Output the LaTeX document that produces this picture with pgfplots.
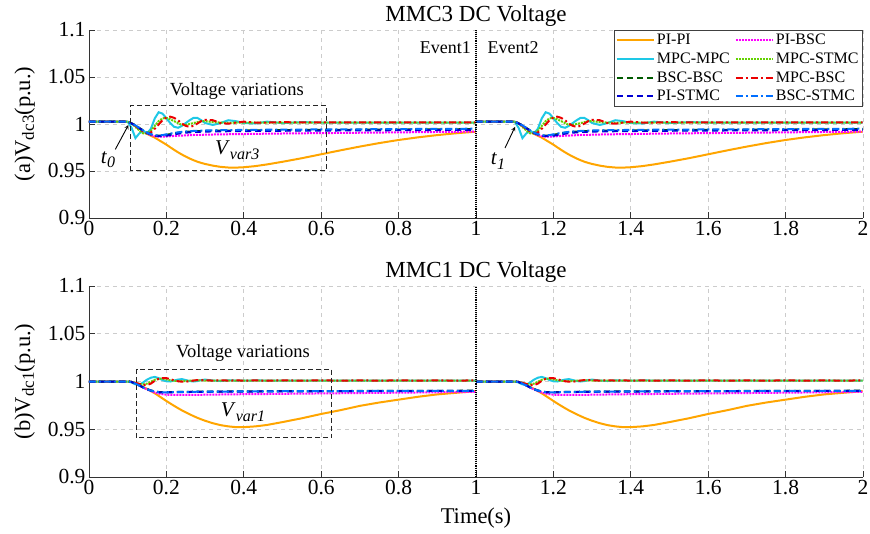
\documentclass[border=0pt]{standalone}
\usepackage{fontspec}
\setmainfont{Liberation Serif}
\usepackage{pgfplots}
\pgfplotsset{compat=1.18}
\usepackage{pgfplotstable}

\definecolor{cPIPI}{RGB}{255,165,0}
\definecolor{cMPC}{RGB}{30,200,230}
\definecolor{cPIBSC}{RGB}{255,0,255}
\definecolor{cMSTMC}{RGB}{100,210,0}
\definecolor{cBSC}{RGB}{0,90,0}
\definecolor{cMBSC}{RGB}{235,0,0}
\definecolor{cPISTMC}{RGB}{0,0,210}
\definecolor{cBSTMC}{RGB}{0,110,255}

% MMC3 (top): one event response, time relative to event window start
\pgfplotstableread{
t pipi pibsc mpcmpc mpcstmc bscbsc mpcbsc pistmc bscstmc
0.00 1.0024 1.0024 1.0024 1.0024 1.0024 1.0024 1.0024 1.0024
0.10 1.0024 1.0024 1.0024 1.0024 1.0024 1.0024 1.0024 1.0024
0.11 1.0005 1.0005 0.9960 1.0005 1.0008 1.0010 1.0006 1.0008
0.12 0.9980 0.9980 0.9850 0.9970 0.9985 0.9980 0.9982 0.9985
0.13 0.9950 0.9952 0.9900 0.9930 0.9958 0.9950 0.9955 0.9958
0.14 0.9920 0.9925 0.9930 0.9900 0.9932 0.9920 0.9928 0.9932
0.15 0.9895 0.9900 0.9900 0.9900 0.9908 0.9900 0.9905 0.9908
0.16 0.9875 0.9882 0.9950 0.9930 0.9890 0.9910 0.9888 0.9892
0.17 0.9855 0.9870 1.0060 0.9980 0.9878 0.9950 0.9876 0.9880
0.18 0.9830 0.9865 1.0125 1.0030 0.9875 0.9995 0.9872 0.9878
0.19 0.9805 0.9865 1.0110 1.0060 0.9878 1.0040 0.9872 0.9882
0.20 0.9780 0.9868 1.0060 1.0065 0.9885 1.0070 0.9876 0.9890
0.21 0.9752 0.9870 1.0010 1.0050 0.9892 1.0078 0.9882 0.9898
0.22 0.9725 0.9873 0.9970 1.0030 0.9900 1.0065 0.9890 0.9905
0.23 0.9699 0.9875 0.9960 1.0010 0.9907 1.0040 0.9897 0.9911
0.24 0.9675 0.9877 0.9980 0.9990 0.9912 1.0005 0.9903 0.9916
0.25 0.9653 0.9879 1.0010 0.9990 0.9916 0.9980 0.9908 0.9920
0.26 0.9633 0.9881 1.0040 1.0000 0.9919 0.9970 0.9911 0.9923
0.27 0.9615 0.9883 1.0065 1.0010 0.9921 0.9980 0.9914 0.9926
0.28 0.9599 0.9884 1.0065 1.0020 0.9923 1.0005 0.9916 0.9928
0.29 0.9586 0.9885 1.0040 1.0030 0.9925 1.0030 0.9918 0.9930
0.30 0.9575 0.9886 1.0010 1.0030 0.9926 1.0045 0.9919 0.9931
0.32 0.9557 0.9888 0.9990 1.0020 0.9928 1.0040 0.9921 0.9933
0.34 0.9544 0.9890 1.0010 1.0015 0.9929 1.0010 0.9922 0.9934
0.36 0.9537 0.9891 1.0040 1.0012 0.9930 1.0003 0.9923 0.9935
0.38 0.9536 0.9892 1.0030 1.0014 0.9931 1.0015 0.9924 0.9936
0.40 0.9540 0.9893 1.0010 1.0016 0.9932 1.0025 0.9925 0.9937
0.43 0.9552 0.9895 1.0005 1.0015 0.9933 1.0015 0.9926 0.9938
0.46 0.9570 0.9897 1.0025 1.0015 0.9934 1.0015 0.9927 0.9939
0.50 0.9598 0.9899 1.0010 1.0015 0.9935 1.0020 0.9928 0.9940
0.55 0.9636 0.9901 1.0020 1.0015 0.9936 1.0016 0.9929 0.9941
0.60 0.9678 0.9903 1.0015 1.0015 0.9937 1.0018 0.9930 0.9942
0.65 0.9720 0.9905 1.0015 1.0015 0.9938 1.0017 0.9931 0.9943
0.70 0.9760 0.9907 1.0015 1.0015 0.9939 1.0018 0.9932 0.9944
0.75 0.9797 0.9909 1.0015 1.0015 0.9940 1.0017 0.9933 0.9945
0.80 0.9830 0.9911 1.0015 1.0015 0.9941 1.0018 0.9934 0.9946
0.85 0.9858 0.9913 1.0015 1.0015 0.9942 1.0017 0.9935 0.9947
0.90 0.9882 0.9915 1.0015 1.0015 0.9943 1.0018 0.9936 0.9948
0.95 0.9902 0.9917 1.0015 1.0015 0.9944 1.0017 0.9937 0.9949
0.999 0.9918 0.9919 1.0015 1.0015 0.9945 1.0018 0.9938 0.9950
}\topdata

% MMC1 (bottom)
\pgfplotstableread{
t pipi pibsc mpcmpc mpcstmc bscbsc mpcbsc pistmc bscstmc
0.00 1.0000 1.0000 1.0000 1.0000 1.0000 1.0000 1.0000 1.0000
0.10 1.0000 1.0000 1.0000 1.0000 1.0000 1.0000 1.0000 1.0000
0.11 0.9995 0.9995 0.9990 0.9995 0.9995 0.9996 0.9995 0.9995
0.12 0.9982 0.9978 0.9970 0.9985 0.9978 0.9985 0.9978 0.9978
0.13 0.9963 0.9957 0.9965 0.9975 0.9958 0.9975 0.9958 0.9958
0.14 0.9943 0.9936 0.9990 0.9970 0.9938 0.9966 0.9938 0.9938
0.15 0.9923 0.9916 1.0020 0.9978 0.9920 0.9962 0.9920 0.9920
0.16 0.9900 0.9899 1.0040 0.9998 0.9906 0.9978 0.9905 0.9905
0.17 0.9876 0.9885 1.0048 1.0018 0.9896 1.0008 0.9894 0.9895
0.18 0.9850 0.9874 1.0035 1.0028 0.9890 1.0028 0.9888 0.9889
0.19 0.9823 0.9867 1.0015 1.0030 0.9888 1.0035 0.9886 0.9887
0.20 0.9796 0.9862 1.0002 1.0022 0.9888 1.0035 0.9886 0.9887
0.21 0.9770 0.9860 1.0000 1.0013 0.9889 1.0025 0.9887 0.9888
0.22 0.9745 0.9859 1.0010 1.0008 0.9890 1.0012 0.9888 0.9889
0.23 0.9721 0.9859 1.0020 1.0005 0.9891 1.0003 0.9889 0.9890
0.24 0.9698 0.9859 1.0025 1.0003 0.9891 0.9998 0.9889 0.9891
0.25 0.9677 0.9859 1.0015 1.0005 0.9892 0.9998 0.9890 0.9891
0.26 0.9657 0.9860 1.0005 1.0008 0.9892 1.0003 0.9890 0.9892
0.27 0.9638 0.9860 1.0000 1.0010 0.9893 1.0010 0.9891 0.9892
0.28 0.9620 0.9861 1.0005 1.0011 0.9893 1.0015 0.9891 0.9893
0.29 0.9604 0.9861 1.0015 1.0011 0.9894 1.0015 0.9892 0.9893
0.30 0.9589 0.9862 1.0020 1.0010 0.9894 1.0012 0.9892 0.9894
0.32 0.9563 0.9863 1.0010 1.0010 0.9895 1.0010 0.9893 0.9894
0.34 0.9543 0.9864 1.0005 1.0010 0.9895 1.0012 0.9893 0.9895
0.36 0.9530 0.9865 1.0012 1.0010 0.9896 1.0010 0.9894 0.9895
0.38 0.9522 0.9866 1.0010 1.0010 0.9896 1.0011 0.9894 0.9896
0.40 0.9522 0.9867 1.0008 1.0010 0.9897 1.0010 0.9895 0.9896
0.43 0.9530 0.9868 1.0011 1.0010 0.9897 1.0011 0.9895 0.9897
0.46 0.9545 0.9869 1.0010 1.0010 0.9898 1.0010 0.9896 0.9897
0.50 0.9575 0.9871 1.0010 1.0010 0.9898 1.0011 0.9896 0.9898
0.55 0.9615 0.9873 1.0010 1.0010 0.9899 1.0010 0.9897 0.9898
0.60 0.9660 0.9875 1.0010 1.0010 0.9900 1.0011 0.9898 0.9899
0.65 0.9700 0.9877 1.0010 1.0010 0.9900 1.0010 0.9898 0.9900
0.70 0.9745 0.9879 1.0010 1.0010 0.9901 1.0011 0.9899 0.9900
0.75 0.9780 0.9881 1.0010 1.0010 0.9901 1.0010 0.9899 0.9901
0.80 0.9810 0.9883 1.0010 1.0010 0.9902 1.0011 0.9900 0.9901
0.85 0.9840 0.9885 1.0010 1.0010 0.9902 1.0010 0.9900 0.9902
0.90 0.9865 0.9887 1.0010 1.0010 0.9903 1.0011 0.9901 0.9902
0.95 0.9882 0.9889 1.0010 1.0010 0.9903 1.0010 0.9901 0.9903
0.999 0.9900 0.9891 1.0010 1.0010 0.9904 1.0011 0.9902 0.9903
}\botdata

\pgfplotsset{
  sPIPI/.style={color=cPIPI, line width=2pt, solid},
  sPIBSC/.style={color=cPIBSC, line width=2pt, densely dotted},
  sMPC/.style={color=cMPC, line width=2pt, solid},
  sMSTMC/.style={color=cMSTMC, line width=2pt, densely dotted},
  sBSC/.style={color=cBSC, line width=2pt, dash pattern=on 6pt off 4pt},
  sMBSC/.style={color=cMBSC, line width=2pt, dash pattern=on 7pt off 3pt on 2pt off 3pt},
  sPISTMC/.style={color=cPISTMC, line width=2pt, dash pattern=on 6pt off 4pt},
  sBSTMC/.style={color=cBSTMC, line width=2pt, dash pattern=on 7pt off 3pt on 2pt off 3pt},
  mystyle/.style={
    width=774pt, height=188pt, scale only axis,
    xmin=0, xmax=2, ymin=0.9, ymax=1.1,
    axis x line*=bottom, axis y line*=left,
    axis line style={black!80, line width=0.8pt, -},
    tick align=inside, major tick length=6pt,
    tick style={black!80, line width=0.8pt},
    xtick={0,0.2,0.4,0.6,0.8,1,1.2,1.4,1.6,1.8,2},
    xticklabels={0,0.2,0.4,0.6,0.8,1,1.2,1.4,1.6,1.8,2},
    ytick={0.9,0.95,1,1.05,1.1},
    yticklabels={0.9,0.95,1,1.05,1.1},
    grid=major, grid style={dash pattern=on 4pt off 4pt, black!20, line width=0.7pt},
    ticklabel style={font=\fontsize{21.5}{24}\selectfont},
    label style={font=\fontsize{22.5}{26}\selectfont},
    title style={font=\fontsize{23}{26}\selectfont, at={(axis description cs:0.5,1)}, anchor=south, inner sep=1.5pt, yshift=-4pt},
    ylabel style={at={(axis description cs:-0.083,0.5)}, anchor=center},
    clip=false,
  },
}

\newcommand{\plotall}[3]{%
  \addplot[sPIPI,#3]   table[x expr=\thisrow{t}+#2, y=pipi]{#1};
  \addplot[sPIBSC,#3]  table[x expr=\thisrow{t}+#2, y=pibsc]{#1};
  \addplot[sMPC,#3]    table[x expr=\thisrow{t}+#2, y=mpcmpc]{#1};
  \addplot[sMSTMC,#3]  table[x expr=\thisrow{t}+#2, y=mpcstmc]{#1};
  \addplot[sBSC,#3]    table[x expr=\thisrow{t}+#2, y=bscbsc]{#1};
  \addplot[sMBSC,#3]   table[x expr=\thisrow{t}+#2, y=mpcbsc]{#1};
  \addplot[sPISTMC,#3] table[x expr=\thisrow{t}+#2, y=pistmc]{#1};
  \addplot[sBSTMC,#3]  table[x expr=\thisrow{t}+#2, y=bscstmc]{#1};
}
\newcommand{\subs}[1]{\raisebox{-0.35ex}{\fontsize{17}{17}\selectfont #1}}
\newcommand{\isubs}[1]{\raisebox{-0.45ex}{\fontsize{16}{16}\selectfont\itshape #1}}

\begin{document}
\begin{tikzpicture}
\useasboundingbox (0pt,0pt) rectangle (870pt,533pt);

% ---------- top axis ----------
\begin{axis}[mystyle,
  at={(89pt,315pt)}, anchor=south west,
  title={MMC3 DC Voltage},
  ylabel={(a)V\subs{dc3}(p.u.)},
  legend columns=2,
  legend cell align=left,
  legend style={at={(axis description cs:1,1)}, anchor=north east,
    draw=black!75, line width=0.8pt, fill=white,
    font=\fontsize{16}{19}\selectfont, inner sep=2pt, row sep=2.5pt,
    /tikz/every even column/.append style={column sep=3pt}},
  legend image code/.code={\draw[#1] (0pt,0pt) -- (37pt,0pt);},
]
\plotall{\topdata}{0}{}
\plotall{\topdata}{1}{forget plot}
\addplot[black, densely dotted, line width=1.1pt, forget plot] coordinates {(1,0.9) (1,1.1)};
\legend{PI-PI,PI-BSC,MPC-MPC,MPC-STMC,BSC-BSC,MPC-BSC,PI-STMC,BSC-STMC}
\draw[black!85, dash pattern=on 5pt off 3pt, line width=1pt] (axis cs:0.107,0.95) rectangle (axis cs:0.614,1.0195);
\node[font=\fontsize{18.5}{22}\selectfont] at (axis cs:0.382,1.035) {Voltage variations};
\node[font=\fontsize{21}{22}\selectfont] at (axis cs:0.383,0.972) {\textit{V}\isubs{var3}};
\node[font=\fontsize{21}{22}\selectfont] at (axis cs:0.049,0.962) {\textit{t}\isubs{0}};
\draw[-stealth, black, line width=0.9pt] (axis cs:0.068,0.973) -- (axis cs:0.102,0.999);
\node[font=\fontsize{21}{22}\selectfont] at (axis cs:1.057,0.9605) {\textit{t}\isubs{1}};
\draw[-stealth, black, line width=0.9pt] (axis cs:1.075,0.9745) -- (axis cs:1.101,0.997);
\node[font=\fontsize{18}{22}\selectfont] at (axis cs:0.921,1.081) {Event1};
\node[font=\fontsize{18}{22}\selectfont] at (axis cs:1.096,1.081) {Event2};
\end{axis}

% ---------- bottom axis ----------
\begin{axis}[mystyle,
  at={(89pt,56pt)}, anchor=south west, height=191pt,
  title={MMC1 DC Voltage},
  ylabel={(b)V\subs{dc1}(p.u.)},
  xlabel={Time(s)},
  xlabel style={yshift=-6pt},
]
\plotall{\botdata}{0}{forget plot}
\plotall{\botdata}{1}{forget plot}
\addplot[black, densely dotted, line width=1.1pt, forget plot] coordinates {(1,0.9) (1,1.1)};
\draw[black!85, dash pattern=on 5pt off 3pt, line width=1pt] (axis cs:0.124,0.941) rectangle (axis cs:0.627,1.013);
\node[font=\fontsize{18.5}{22}\selectfont] at (axis cs:0.398,1.030) {Voltage variations};
\node[font=\fontsize{21}{22}\selectfont] at (axis cs:0.398,0.968) {\textit{V}\isubs{var1}};
\end{axis}
\end{tikzpicture}
\end{document}
